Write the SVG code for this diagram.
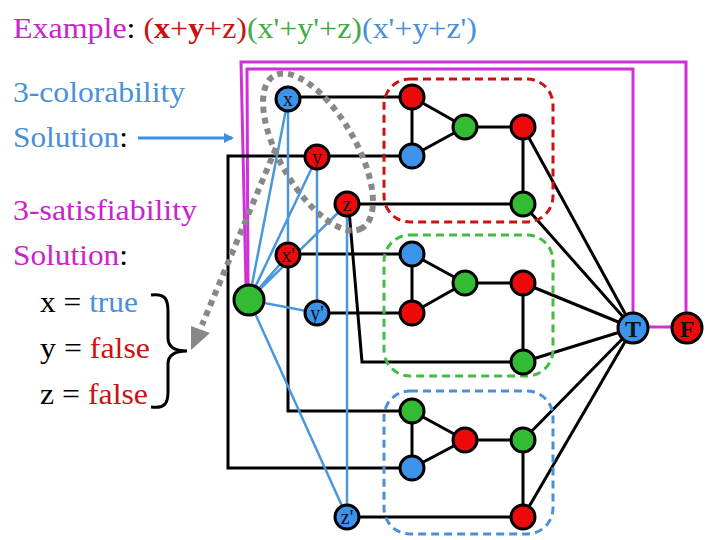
<svg xmlns="http://www.w3.org/2000/svg" width="720" height="540" viewBox="0 0 720 540">
<style>
.t{font-family:"Liberation Serif","Times New Roman",serif;}
.lab{font-family:"Liberation Serif","Times New Roman",serif;font-size:20px;fill:#111;text-anchor:middle;}
.big{font-family:"Liberation Serif","Times New Roman",serif;font-size:24px;font-weight:bold;fill:#111;text-anchor:middle;}
.n{stroke:#000;stroke-width:3;}
.R{fill:#ee0a0a;} .B{fill:#3d93ea;} .G{fill:#33bb33;}
.bk{stroke:#000;stroke-width:3;fill:none;}
.bl{stroke:#4a97dd;stroke-width:2.5;fill:none;}
.mg{stroke:#d030d8;stroke-width:3;fill:none;}
.box{fill:none;stroke-width:3;stroke-dasharray:8 5;}
</style>
<defs>
<marker id="ab" markerWidth="10" markerHeight="10" refX="8" refY="5" orient="auto" markerUnits="userSpaceOnUse">
<path d="M0,0 L10,5 L0,10 z" fill="#3d8fe0"/>
</marker>
</defs>
<rect width="720" height="540" fill="#fff"/>
<text class="t" x="13" y="38" font-size="29" textLength="464" lengthAdjust="spacingAndGlyphs"><tspan fill="#cc22cc">Example</tspan><tspan fill="#000">: </tspan><tspan fill="#cc1111">(<tspan font-weight="bold">x</tspan>+<tspan font-weight="bold">y</tspan>+z)</tspan><tspan fill="#44aa44">(x'+y'+z)</tspan><tspan fill="#4a90d9">(x'+y+z')</tspan></text>
<text class="t" x="13" y="102" font-size="29" fill="#4a90d9" textLength="172" lengthAdjust="spacingAndGlyphs">3-colorability</text>
<text class="t" x="13" y="147" font-size="29" textLength="115" lengthAdjust="spacingAndGlyphs"><tspan fill="#4a90d9">Solution</tspan><tspan fill="#000">:</tspan></text>
<text class="t" x="13" y="220" font-size="29" fill="#cc22cc" textLength="184" lengthAdjust="spacingAndGlyphs">3-satisfiability</text>
<text class="t" x="13" y="265" font-size="29" textLength="115" lengthAdjust="spacingAndGlyphs"><tspan fill="#cc22cc">Solution</tspan><tspan fill="#000">:</tspan></text>
<text class="t" x="40" y="312" font-size="29" textLength="98" lengthAdjust="spacingAndGlyphs"><tspan fill="#000">x = </tspan><tspan fill="#4a90d9">true</tspan></text>
<text class="t" x="40" y="358" font-size="29" textLength="110" lengthAdjust="spacingAndGlyphs"><tspan fill="#000">y = </tspan><tspan fill="#cc1111">false</tspan></text>
<text class="t" x="40" y="404" font-size="29" textLength="108" lengthAdjust="spacingAndGlyphs"><tspan fill="#000">z = </tspan><tspan fill="#cc1111">false</tspan></text>
<path d="M151,295 C166,293 168,300 168,312 L168,338 C168,347 175,351 187,351 C175,351 168,355 168,364 L168,392 C168,403 165,409 151,407" fill="none" stroke="#000" stroke-width="3"/>
<line x1="138" y1="138" x2="232" y2="138" stroke="#3d8fe0" stroke-width="3" marker-end="url(#ab)"/>
<g id="connectors">
<polyline class="mg" points="686,312 686,62 241,62 246,286"/>
<polyline class="mg" points="633,312 633,69 247,69 248,286"/>
<line class="mg" x1="648" y1="327" x2="672" y2="327"/>
<line class="bk" x1="288" y1="97" x2="412" y2="97"/>
<polyline class="bk" points="412,156 228,156 228,468 412,468"/>
<line class="bk" x1="347" y1="204" x2="523" y2="204"/>
<polyline class="bk" points="349,210 362,362 523,362"/>
<line class="bk" x1="288" y1="254" x2="412" y2="254"/>
<polyline class="bk" points="288,255 288,411 412,411"/>
<line class="bk" x1="317" y1="313" x2="412" y2="313"/>
<line class="bk" x1="347" y1="517" x2="523" y2="517"/>
<path class="bk" d="M412,97 L412,156 L465,127 Z M465,127 L523,127 L523,204"/>
<path class="bk" d="M412,254 L412,313 L465,283 Z M465,283 L523,283 L523,362"/>
<path class="bk" d="M412,411 L412,468 L465,440 Z M465,440 L523,440 L523,517"/>
<path class="bk" d="M523,127 L633,328 M523,204 L633,328 M523,283 L633,328 M523,362 L633,328 M523,440 L633,328 M523,517 L633,328" stroke-width="2.5"/>
<path class="bl" d="M249,300 L288,99 M249,300 L317,157 M249,300 L347,204 M249,300 L288,255 M249,300 L317,313 M249,300 L347,517 M288,99 L288,255 M317,157 L317,313 M347,204 L347,517"/>
</g>
<rect class="box" x="384" y="79" width="169" height="143" rx="26" stroke="#cc1111"/>
<rect class="box" x="384" y="235" width="169" height="141" rx="26" stroke="#44bb44"/>
<rect class="box" x="384" y="391" width="169" height="143" rx="26" stroke="#4a90d9"/>
<g id="x"><circle class="n B" cx="288" cy="99" r="12"/><text class="lab" x="288" y="106">x</text></g>
<g id="y"><circle class="n R" cx="317" cy="157" r="12"/><text class="lab" x="317" y="164">y</text></g>
<g id="z"><circle class="n R" cx="347" cy="204" r="12"/><text class="lab" x="347" y="211">z</text></g>
<g id="xn"><circle class="n R" cx="288" cy="255" r="12"/><text class="lab" x="288" y="262">x'</text></g>
<g id="yn"><circle class="n B" cx="317" cy="313" r="12"/><text class="lab" x="317" y="320">y'</text></g>
<g id="zn"><circle class="n B" cx="347" cy="517" r="12"/><text class="lab" x="347" y="524">z'</text></g>
<g id="base"><circle class="n G" cx="249" cy="300" r="15"/></g>
<g id="T"><circle class="n B" cx="633" cy="328" r="15"/><text class="big" x="633" y="337">T</text></g>
<g id="F"><circle class="n R" cx="687" cy="328" r="15"/><text class="big" x="687" y="337">F</text></g>
<g id="c1">
<circle class="n R" cx="412" cy="97" r="12"/><circle class="n B" cx="412" cy="156" r="12"/><circle class="n G" cx="465" cy="127" r="12"/><circle class="n R" cx="523" cy="127" r="12"/><circle class="n G" cx="523" cy="204" r="12"/>
</g>
<g id="c2">
<circle class="n B" cx="412" cy="254" r="12"/><circle class="n R" cx="412" cy="313" r="12"/><circle class="n G" cx="465" cy="283" r="12"/><circle class="n R" cx="523" cy="283" r="12"/><circle class="n G" cx="523" cy="362" r="12"/>
</g>
<g id="c3">
<circle class="n G" cx="412" cy="411" r="12"/><circle class="n B" cx="412" cy="468" r="12"/><circle class="n R" cx="465" cy="440" r="12"/><circle class="n G" cx="523" cy="440" r="12"/><circle class="n R" cx="523" cy="517" r="12"/>
</g>
<g id="highlight">
<ellipse cx="318" cy="152" rx="88" ry="38" transform="rotate(60 318 152)" fill="none" stroke="#888" stroke-width="6" stroke-dasharray="6 5"/>
<line x1="276" y1="148" x2="202" y2="325" stroke="#888" stroke-width="6" stroke-dasharray="6 5"/>
<path d="M191,350 L191,326 L210,333 Z" fill="#888"/>
</g>
</svg>
